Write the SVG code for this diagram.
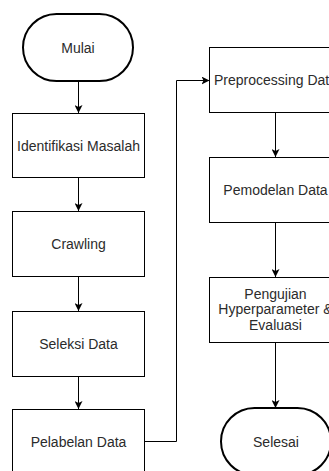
<svg xmlns="http://www.w3.org/2000/svg" width="329" height="471" viewBox="0 0 329 471">
<defs>
<marker id="arr" viewBox="0 0 10 10" refX="10" refY="5" markerWidth="8" markerHeight="8" markerUnits="userSpaceOnUse" orient="auto">
<path d="M0,0 L10,5 L0,10 L2.5,5 Z" fill="#000"/>
</marker>
<style>
.box{fill:#fff;stroke:#000;stroke-width:1}
.term{fill:#fff;stroke:#000;stroke-width:2}
.t{font-family:"Liberation Sans",Arial,sans-serif;font-size:14px;fill:#2b2b2b;text-anchor:middle;dominant-baseline:central}
.c{fill:none;stroke:#000;stroke-width:1;marker-end:url(#arr)}
</style>
</defs>
<rect width="329" height="471" fill="#fff"/>
<g id="connectors">
<path class="c" d="M78.5,81 L78.5,113"/>
<path class="c" d="M78.5,177 L78.5,211"/>
<path class="c" d="M78.5,277 L78.5,311"/>
<path class="c" d="M78.5,376 L78.5,409"/>
<path class="c" d="M144.5,441.5 L176.5,441.5 L176.5,80.5 L209.5,80.5"/>
<path class="c" d="M275.5,113 L275.5,157"/>
<path class="c" d="M275.5,223 L275.5,277"/>
<path class="c" d="M275.5,343 L275.5,408"/>
</g>
<g id="mulai">
<rect class="term" x="23" y="14" width="110" height="67" rx="33.5" ry="33.5"/>
<text class="t" x="78" y="47.5">Mulai</text>
</g>
<g id="identifikasi">
<rect class="box" x="12.5" y="113.5" width="132" height="64"/>
<text class="t" x="78.5" y="145.5">Identifikasi Masalah</text>
</g>
<g id="crawling">
<rect class="box" x="12.5" y="211.5" width="132" height="65"/>
<text class="t" x="78.5" y="244">Crawling</text>
</g>
<g id="seleksi">
<rect class="box" x="12.5" y="311.5" width="132" height="65"/>
<text class="t" x="78.5" y="344">Seleksi Data</text>
</g>
<g id="pelabelan">
<rect class="box" x="12.5" y="409.5" width="132" height="65"/>
<text class="t" x="78.5" y="442">Pelabelan Data</text>
</g>
<g id="preprocessing">
<rect class="box" x="209.5" y="47.5" width="132" height="65"/>
<text class="t" x="275.5" y="80">Preprocessing Data</text>
</g>
<g id="pemodelan">
<rect class="box" x="209.5" y="157.5" width="132" height="65"/>
<text class="t" x="275.5" y="190">Pemodelan Data</text>
</g>
<g id="pengujian">
<rect class="box" x="209.5" y="277.5" width="132" height="65"/>
<text class="t" x="275.5" y="294">Pengujian</text>
<text class="t" x="275.5" y="309">Hyperparameter &amp;</text>
<text class="t" x="275.5" y="324.5">Evaluasi</text>
</g>
<g id="selesai">
<rect class="term" x="221" y="408" width="110" height="67" rx="33.5" ry="33.5"/>
<text class="t" x="276" y="441.5">Selesai</text>
</g>
</svg>
